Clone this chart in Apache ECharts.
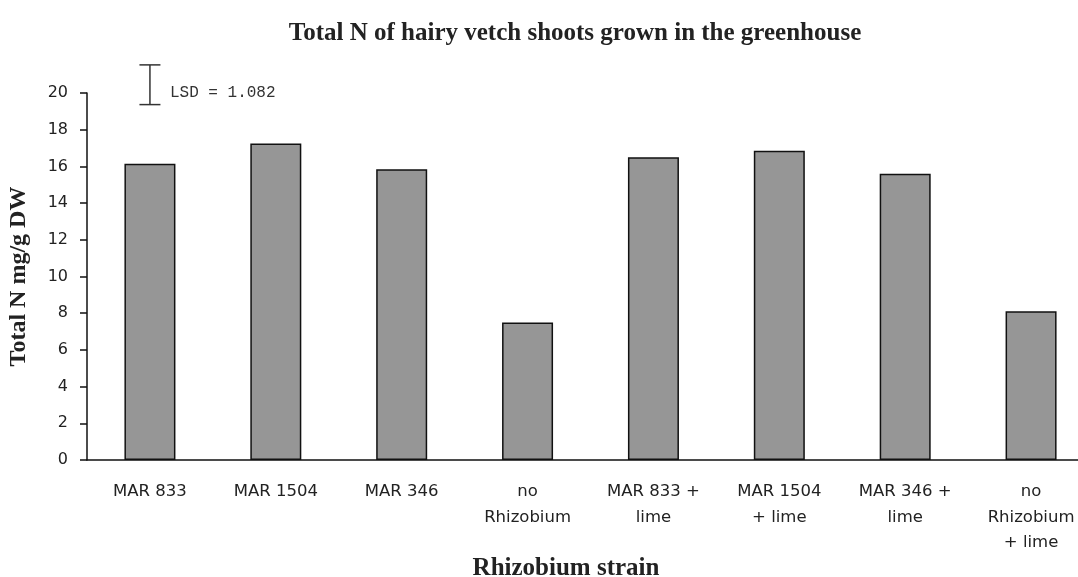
<!DOCTYPE html>
<html>
<head>
<meta charset="utf-8">
<script src="https://cdn.jsdelivr.net/npm/echarts@6/dist/echarts.min.js"></script>
<style>
  html, body { margin: 0; padding: 0; background: #fff; }
  #chart { width: 1078px; height: 577px; }
</style>
</head>
<body>
<div id="chart"></div>
<script>
// data
const strains = ['MAR 833', 'MAR 1504', 'MAR 346', 'no\nRhizobium', 'MAR 833 +\nlime',
  'MAR 1504\n+ lime', 'MAR 346 +\nlime', 'no\nRhizobium\n+ lime'];
const totalN = [16.15, 17.25, 15.85, 7.5, 16.5, 16.85, 15.6, 8.1];
const yTicks = { min: 0, max: 20, interval: 2 };
const lsd = 1.082;
const lsdCenter = [0, 20.45]; // category index, value

const serif = '"Liberation Serif", "Times New Roman", serif';
const sans = '"DejaVu Sans", Verdana, sans-serif';

const chart = echarts.init(document.getElementById('chart'));

chart.setOption({
  animation: false,
  title: [
    {
      text: 'Total N of hairy vetch shoots grown in the greenhouse',
      left: 570,
      textAlign: 'center',
      top: 16,
      textStyle: { fontFamily: serif, fontWeight: 'bold', fontSize: 25, color: '#222' }
    },
    {
      text: 'Rhizobium strain',
      left: 561,
      textAlign: 'center',
      top: 551,
      textStyle: { fontFamily: serif, fontWeight: 'bold', fontSize: 25, color: '#222' }
    }
  ],
  grid: { left: 87, top: 93, width: 1007, height: 367, outerBoundsMode: 'none' },
  xAxis: {
    type: 'category',
    data: strains,
    axisLine: { lineStyle: { color: '#111', width: 1.5 } },
    axisTick: { length: 6, interval: 0, lineStyle: { color: '#111', width: 1.5 } },
    axisLabel: {
      interval: 0,
      margin: 19,
      fontFamily: sans,
      fontSize: 16.5,
      lineHeight: 25.5,
      color: '#222'
    }
  },
  yAxis: {
    type: 'value',
    min: yTicks.min,
    max: yTicks.max,
    interval: yTicks.interval,
    name: 'Total N mg/g DW',
    nameLocation: 'middle',
    nameGap: 56,
    nameTextStyle: { fontFamily: serif, fontWeight: 'bold', fontSize: 24, color: '#222' },
    splitLine: { show: false },
    axisLine: { show: true, lineStyle: { color: '#111', width: 1.5 } },
    axisTick: { show: true, length: 7, lineStyle: { color: '#111', width: 1.5 } },
    axisLabel: { margin: 19, fontFamily: sans, fontSize: 16, color: '#222' }
  },
  series: [
    {
      type: 'bar',
      data: totalN,
      barWidth: 51,
      itemStyle: { color: '#969696', borderColor: '#111', borderWidth: 1.5 }
    },
    {
      // LSD marker
      type: 'custom',
      clip: false,
      silent: true,
      data: [lsdCenter],
      renderItem: function (params, api) {
        const top = api.coord([api.value(0), api.value(1) + lsd]);
        const bot = api.coord([api.value(0), api.value(1) - lsd]);
        const mid = api.coord([api.value(0), api.value(1)]);
        const half = 10.5;
        const ls = { stroke: '#333', lineWidth: 1.5 };
        return {
          type: 'group',
          children: [
            { type: 'line', shape: { x1: top[0], y1: top[1], x2: bot[0], y2: bot[1] }, style: ls },
            { type: 'line', shape: { x1: top[0] - half, y1: top[1], x2: top[0] + half, y2: top[1] }, style: ls },
            { type: 'line', shape: { x1: bot[0] - half, y1: bot[1], x2: bot[0] + half, y2: bot[1] }, style: ls },
            {
              type: 'text',
              x: mid[0] + 20,
              y: mid[1] + 8,
              style: {
                text: 'LSD = ' + lsd,
                fontFamily: '"Liberation Mono", "Courier New", monospace',
                fontSize: 16,
                fill: '#333',
                verticalAlign: 'middle'
              }
            }
          ]
        };
      }
    }
  ]
});
</script>
</body>
</html>
